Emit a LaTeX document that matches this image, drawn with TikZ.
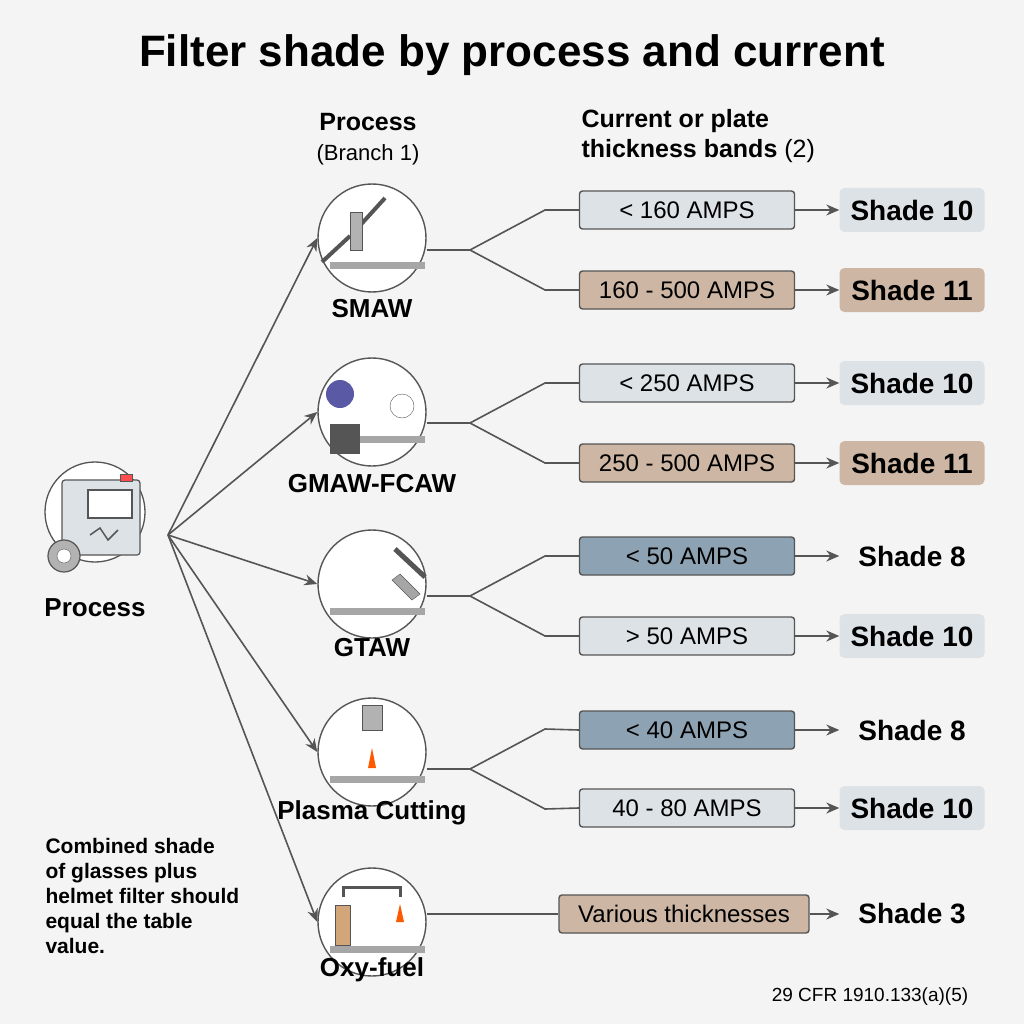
\documentclass[tikz,border=0pt]{standalone}
\usepackage{fontspec}
\setmainfont{Liberation Sans}
\usetikzlibrary{arrows.meta}
\definecolor{bg}{HTML}{F4F4F4}
\definecolor{lg}{HTML}{DDE2E6}
\definecolor{tan}{HTML}{CDB7A4}
\definecolor{blu}{HTML}{8DA2B2}
\definecolor{ln}{HTML}{555555}
\begin{document}
\begin{tikzpicture}[x=1pt,y=-1pt,
 lbl/.style={font=\bfseries\fontsize{26}{30}\selectfont},
 band/.style={draw=ln,line width=1.4pt,rounded corners=3pt,minimum width=215pt,minimum height=38pt,font=\fontsize{24}{26}\selectfont},
 shade/.style={rounded corners=5pt,minimum width=145pt,minimum height=44pt,font=\bfseries\fontsize{28}{30}\selectfont},
 circ/.style={circle,draw=ln,line width=1.4pt,fill=white,minimum size=108pt},
 con/.style={draw=ln,line width=1.6pt},
 arr/.style={con,-{Stealth[length=13pt,width=11pt]}}]
\useasboundingbox[fill=bg] (0,0) rectangle (1024,1024);
\node[font=\bfseries\fontsize{44}{48}\selectfont] (title) at (512,55) {Filter shade by process and current};
\node[font=\bfseries\fontsize{25}{28}\selectfont] (h1) at (368,122) {Process};
\node[font=\fontsize{22}{24}\selectfont] (h1b) at (368,155) {(Branch 1)};
\node[font=\bfseries\fontsize{25}{30}\selectfont,align=left,anchor=north west] (h2) at (578,106) {Current or plate\\thickness bands {\mdseries(2)}};
% root
\node[circle,draw=ln,line width=1.3pt,fill=white,minimum size=100pt] (root) at (95,512) {};
\draw[fill=lg,draw=ln,line width=1.2pt,rounded corners=3pt] (62,480) rectangle (140,555);
\draw[fill=white,draw=ln,line width=1.2pt] (88,490) rectangle (132,518);
\draw[fill=red!70,draw=ln] (120,474) rectangle (132,481);
\draw[ln,line width=1.5pt] (90,535)--(100,528)--(108,540)--(118,530);
\draw[fill=gray!60,draw=ln,line width=1.2pt] (64,556) circle (16);
\draw[fill=white,draw=ln] (64,556) circle (7);
\node[lbl] (rootl) at (95,608) {Process};
\coordinate (rs) at (168,535);
% processes
\foreach \n/\y/\t/\ly in {p1/238/SMAW/309,p2/412/GMAW-FCAW/484,p3/584/GTAW/648,p4/752/Plasma Cutting/813,p5/922/Oxy-fuel/970}{
 \node[circ] (\n) at (372,\y) {};
 \node[lbl] (\n l) at (372,\ly) {\t};
 \draw[arr] (rs) -- (\n.west);
 \fill[gray!70] (330,\y+24) rectangle (425,\y+31);
}
% icon hints
\draw[ln,line width=4pt] (322,262)--(350,236) (355,231)--(385,198);
\draw[fill=gray!60,draw=ln] (350,212) rectangle (362,250);
\fill[blue!30!gray] (340,394) circle (14);
\fill[ln] (330,424) rectangle (360,454);
\draw[fill=white,draw=ln] (402,406) circle (12);
\draw[ln,line width=5pt] (395,549)--(425,577);
\draw[fill=gray!70,draw=ln] (400,574) -- (420,594) -- (412,600) -- (392,580) -- cycle;
\draw[fill=gray!60,draw=ln] (362,705) rectangle (382,730);
\fill[orange!70!red] (372,748) -- (368,768) -- (376,768) -- cycle;
\draw[fill=brown!70,draw=ln] (335,905) rectangle (350,945);
\draw[ln,line width=3pt] (343,897) -- (343,887) -- (400,887) -- (400,897);
\fill[orange!70!red] (400,904) -- (396,922) -- (404,922) -- cycle;
% bands
\foreach \n/\x/\y/\w/\f/\t in {b1/687/210/215/lg/< 160 AMPS,b2/687/290/215/tan/160 - 500 AMPS,
 b3/687/383/215/lg/< 250 AMPS,b4/687/463/215/tan/250 - 500 AMPS,
 b5/687/556/215/blu/< 50 AMPS,b6/687/636/215/lg/> 50 AMPS,
 b7/687/730/215/blu/< 40 AMPS,b8/687/808/215/lg/40 - 80 AMPS,b9/684/914/250/tan/Various thicknesses}{
 \node[band,fill=\f,minimum width=\w pt] (\n) at (\x,\y) {\t};}
\foreach \n/\y/\f/\t in {s1/210/lg/10,s2/290/tan/11,s3/383/lg/10,s4/463/tan/11,s5/556/bg/8,s6/636/lg/10,s7/730/bg/8,s8/808/lg/10,s9/914/bg/3}{
 \node[shade,fill=\f] (\n) at (912,\y) {Shade \t};}
\foreach \i in {1,...,9}{\draw[arr] (b\i.east) -- (s\i.west);}
\foreach \p/\a/\b/\y in {p1/b1/b2/250,p2/b3/b4/423,p3/b5/b6/596,p4/b7/b8/769}{
 \coordinate (f\p) at (470,\y);
 \draw[con] (\p.east |- f\p) -- (f\p);
 \draw[con] (f\p) -- (545,\y-40) -- (\a.west);
 \draw[con] (f\p) -- (545,\y+40) -- (\b.west);}
\draw[con] (p5.east |- b9) -- (b9.west);
\node[font=\bfseries\fontsize{21}{25}\selectfont,align=left,anchor=north west] (note) at (42,835) {Combined shade\\of glasses plus\\helmet filter should\\equal the table\\value.};
\node[font=\fontsize{19}{22}\selectfont] (ref) at (870,997) {29 CFR 1910.133(a)(5)};
\end{tikzpicture}
\end{document}
